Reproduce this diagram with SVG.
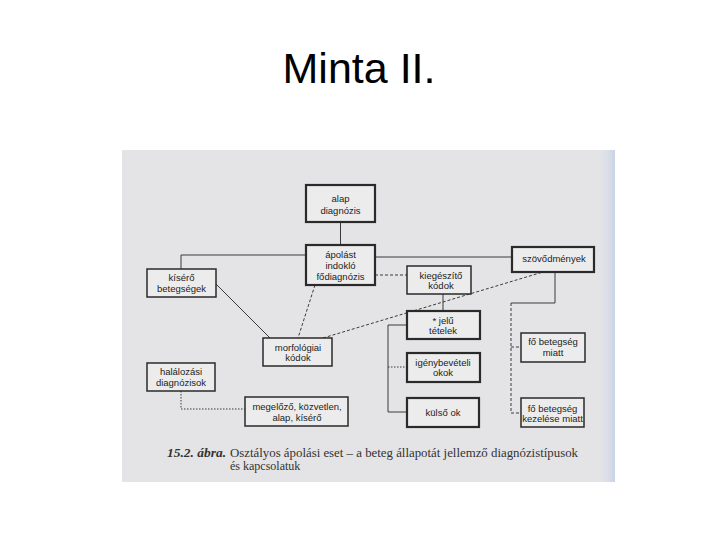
<svg xmlns="http://www.w3.org/2000/svg" width="720" height="540" viewBox="0 0 720 540">
<defs>
<linearGradient id="edge" x1="0" y1="0" x2="1" y2="0">
<stop offset="0" stop-color="#e4e5ea" stop-opacity="0"/>
<stop offset="1" stop-color="#c9d3e6"/>
</linearGradient>
<style>
.box{fill:#ececec;stroke:#2a2a2a;stroke-width:1.5}
.thick{stroke-width:2.2}
.t{font-family:"Liberation Sans",Arial,sans-serif;font-size:9.5px;fill:#222;text-anchor:middle}
.ln{fill:none;stroke:#3a3a3a;stroke-width:1}
.dash{stroke-dasharray:3 2}
.dot{stroke-dasharray:1.5 1.5}
.cap{font-family:"Liberation Serif","Times New Roman",serif;font-size:12px;fill:#333}
</style>
</defs>
<rect width="720" height="540" fill="#ffffff"/>
<text x="359" y="83" font-family="Liberation Sans, Arial, sans-serif" font-size="43" text-anchor="middle" fill="#000">Minta II.</text>
<rect x="122" y="150" width="493" height="332" fill="#e4e4e6"/>
<rect x="596" y="150" width="19" height="332" fill="url(#edge)"/>
<g id="connectors">
<line class="ln" x1="340.5" y1="222" x2="340.5" y2="245"/>
<polyline class="ln" points="306,255 181,255 181,269"/>
<line class="ln" x1="375" y1="257" x2="512" y2="257"/>
<line class="ln dash" x1="375" y1="275" x2="407" y2="275"/>
<line class="ln" x1="216" y1="284" x2="270" y2="338"/>
<line class="ln dash" x1="315" y1="285" x2="298" y2="338"/>
<line class="ln dash" x1="323" y1="338" x2="543" y2="272"/>
<line class="ln" x1="443" y1="294" x2="443" y2="311"/>
<polyline class="ln" points="407,325 388,325 388,412 407,412"/>
<line class="ln dot" x1="388" y1="367" x2="407" y2="367"/>
<polyline class="ln" points="555,272 555,303 511,303"/>
<polyline class="ln dash" points="511,303 511,413 521,413"/>
<line class="ln dash" x1="511" y1="347" x2="521" y2="347"/>
<polyline class="ln dot" points="181,391 181,409 245,409"/>
</g>
<g id="alap"><rect class="box thick" x="306" y="185" width="69" height="37"/><text class="t" x="340.5" y="201.5">alap</text><text class="t" x="340.5" y="213.5">diagnózis</text></g>
<g id="apolast"><rect class="box thick" x="306" y="245" width="69" height="40"/><text class="t" x="340.5" y="257.5">ápolást</text><text class="t" x="340.5" y="268.5">indokló</text><text class="t" x="340.5" y="279.5">fődiagnózis</text></g>
<g id="kisero"><rect class="box" x="147" y="269" width="69" height="28"/><text class="t" x="181.5" y="280.5">kísérő</text><text class="t" x="181.5" y="291.5">betegségek</text></g>
<g id="kiegeszito"><rect class="box" x="407" y="266" width="64" height="28"/><text class="t" x="441" y="278.5">kiegészítő</text><text class="t" x="441" y="288.5">kódok</text></g>
<g id="szovodmenyek"><rect class="box thick" x="512" y="247" width="82" height="25"/><text class="t" x="554" y="261.5">szövődmények</text></g>
<g id="jelu"><rect class="box thick" x="407" y="311" width="73" height="28"/><text class="t" x="443" y="323.5">* jelű</text><text class="t" x="443" y="333.5">tételek</text></g>
<g id="morfologiai"><rect class="box" x="263" y="338" width="69" height="28"/><text class="t" x="298" y="350.5">morfológiai</text><text class="t" x="298" y="361">kódok</text></g>
<g id="halalozasi"><rect class="box" x="147" y="363" width="68" height="28"/><text class="t" x="181" y="374.5">halálozási</text><text class="t" x="181" y="385.5">diagnózisok</text></g>
<g id="igenybeveteli"><rect class="box thick" x="407" y="353" width="73" height="29"/><text class="t" x="443" y="365.5">igénybevételi</text><text class="t" x="443" y="375.5">okok</text></g>
<g id="megelozo"><rect class="box" x="245" y="397" width="103" height="29"/><text class="t" x="297" y="409.5">megelőző, közvetlen,</text><text class="t" x="297" y="420.5">alap, kísérő</text></g>
<g id="kulso"><rect class="box thick" x="407" y="398" width="72" height="29"/><text class="t" x="443" y="415.5">külső ok</text></g>
<g id="fo-miatt"><rect class="box" x="521" y="333" width="64" height="29"/><text class="t" x="553" y="344.5">fő betegség</text><text class="t" x="553" y="355.5">miatt</text></g>
<g id="fo-kezelese"><rect class="box" x="521" y="398" width="63" height="29"/><text class="t" x="552.5" y="411.5">fő betegség</text><text class="t" x="552.5" y="421.5">kezelése miatt</text></g>
<text class="cap" x="167" y="457" font-weight="bold" font-style="italic" textLength="59" lengthAdjust="spacingAndGlyphs">15.2. ábra.</text>
<text class="cap" x="230" y="457" textLength="348" lengthAdjust="spacingAndGlyphs">Osztályos ápolási eset – a beteg állapotát jellemző diagnózistípusok</text>
<text class="cap" x="230" y="470">és kapcsolatuk</text>
</svg>
